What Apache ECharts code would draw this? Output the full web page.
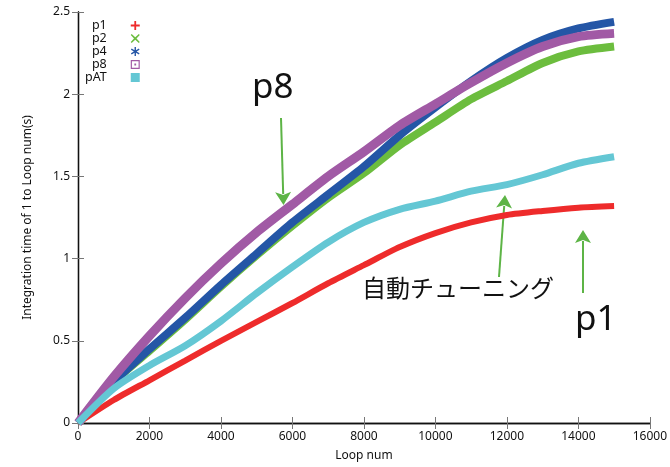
<!DOCTYPE html>
<html><head><meta charset="utf-8">
<script src="https://cdn.jsdelivr.net/npm/echarts@6/dist/echarts.min.js"></script>
<style>html,body{margin:0;padding:0;background:#fff}#c{width:670px;height:467px}</style>
</head><body><div id="c"></div>
<script>
// ---- data ----
const loopNum = [0,1000,2000,3000,4000,5000,6000,7000,8000,9000,10000,11000,12000,13000,14000,15000];
const p1  = [0,0.14,0.26,0.38,0.50,0.615,0.73,0.85,0.96,1.07,1.155,1.22,1.265,1.29,1.31,1.32];
const p2  = [0,0.25,0.44,0.63,0.83,1.02,1.20,1.37,1.52,1.69,1.83,1.97,2.08,2.19,2.26,2.29];
const p4  = [0,0.25,0.45,0.64,0.84,1.03,1.22,1.39,1.56,1.75,1.92,2.08,2.22,2.33,2.40,2.44];
const p8  = [0,0.28,0.53,0.76,0.97,1.16,1.33,1.50,1.65,1.81,1.94,2.07,2.19,2.29,2.35,2.37];
const pAT = [0,0.21,0.35,0.47,0.62,0.79,0.95,1.10,1.22,1.30,1.35,1.41,1.45,1.51,1.58,1.62];
const seriesNames = ['p1','p2','p4','p8','pAT'];
const xTicks = [0,2000,4000,6000,8000,10000,12000,14000,16000];
const yTicks = [0,0.5,1,1.5,2,2.5];
const xName = 'Loop num';
const yName = 'Integration time of 1 to Loop num(s)';
const notes = {p8:'p8', auto:'自動チューニング', p1:'p1'};

// ---- styles ----
const colors = ['#ee2b2b','#6cbd3e','#2456a6','#a15aa5','#64c7d4'];
const widths = [6,8,8,9,7];
const icons = [
  'path://M4,0h2v4h4v2h-4v4h-2v-4h-4v-2h4z',
  'path://M1,0L5,3.6L9,0L10,1L6.4,5L10,9L9,10L5,6.4L1,10L0,9L3.6,5L0,1z',
  'path://M4.3,0h1.4v3.3l2.9,-1.7l0.7,1.2l-2.9,1.7l2.9,1.7l-0.7,1.2l-2.9,-1.7v3.3h-1.4v-3.3l-2.9,1.7l-0.7,-1.2l2.9,-1.7l-2.9,-1.7l0.7,-1.2l2.9,1.7z',
  'path://M0,0h10v10h-10zM1.3,1.3v7.4h7.4v-7.4zM4,4h2v2h-2z',
  'rect'
];
const fontFam = '"Noto Sans", "Open Sans", sans-serif';
const dataSets = [p1,p2,p4,p8,pAT];

const chart = echarts.init(document.getElementById('c'), null, {renderer:'canvas'});
const series = seriesNames.map((n,i)=>({
  name:n, type:'line', smooth:0.25, showSymbol:false, symbol:'none',
  data: loopNum.map((x,j)=>[x,dataSets[i][j]]),
  lineStyle:{color:colors[i], width:widths[i], cap:'butt'},
  itemStyle:{color:colors[i]},
  z: 2+i, animation:false
}));

const green = '#5db446';
function arrow(x1,y1,x2,y2){
  const dx=x2-x1, dy=y2-y1, L=Math.hypot(dx,dy), ux=dx/L, uy=dy/L;
  const hl=13, hw=8;
  const bx=x2-ux*hl, by=y2-uy*hl;
  return [
    {type:'line', shape:{x1:x1,y1:y1,x2:bx+ux*2,y2:by+uy*2}, style:{stroke:green, lineWidth:2}},
    {type:'polygon', shape:{points:[[x2,y2],[bx-uy*hw,by+ux*hw],[bx+ux*3,by+uy*3],[bx+uy*hw,by-ux*hw]]}, style:{fill:green}}
  ];
}

const option = {
  backgroundColor:'#fff',
  animation:false,
  color: colors,
  grid:{left:78, right:20, top:12, bottom:42, show:false},
  legend:{
    orient:'vertical', left:80, top:14, align:'right',
    itemWidth:9, itemHeight:9, itemGap:0,
    data: seriesNames.map((n,i)=>({name:n, icon:icons[i], itemStyle:{color:colors[i]}})),
    textStyle:{fontSize:12.5, lineHeight:13, color:'#111', fontFamily:fontFam, padding:[0,19,0,0]}
  },
  xAxis:[{
    type:'value', min:0, max:16000, interval:2000,
    name:xName, nameLocation:'middle', nameGap:27,
    nameTextStyle:{fontSize:12, color:'#111', fontFamily:fontFam},
    axisLine:{show:true, lineStyle:{color:'#111', width:1.3}},
    axisTick:{show:true, inside:true, length:6, lineStyle:{color:'#777'}},
    axisLabel:{fontSize:12, color:'#111', fontFamily:fontFam, margin:8, formatter:v=>String(v)},
    splitLine:{show:false}
  },{
    type:'value', min:0, max:16000, interval:2000, position:'top',
    axisLine:{show:true, lineStyle:{color:'#111', width:1.3}},
    axisTick:{show:true, inside:true, length:6, lineStyle:{color:'#777'}},
    axisLabel:{show:false}, splitLine:{show:false}
  }],
  yAxis:[{
    type:'value', min:0, max:2.5, interval:0.5,
    name:yName, nameLocation:'middle', nameGap:44, nameRotate:90,
    nameTextStyle:{fontSize:12, color:'#111', fontFamily:fontFam},
    axisLine:{show:true, lineStyle:{color:'#111', width:1.3}},
    axisTick:{show:true, inside:true, length:6, lineStyle:{color:'#777'}},
    axisLabel:{fontSize:12, color:'#111', fontFamily:fontFam, margin:8, formatter:v=>String(v)},
    splitLine:{show:false}
  },{
    type:'value', min:0, max:2.5, interval:0.5, position:'right',
    axisLine:{show:true, lineStyle:{color:'#111', width:1.3}},
    axisTick:{show:true, inside:true, length:6, lineStyle:{color:'#777'}},
    axisLabel:{show:false}, splitLine:{show:false}
  }],
  series: series,
  graphic: [].concat(
    [{type:'text', left:252, top:71, z:100, style:{text:notes.p8, font:'35px '+fontFam, fill:'#111'}}],
    arrow(281,118,283.5,205),
    [{type:'text', left:362, top:276, z:100, style:{text:notes.auto, font:'24px "Noto Sans CJK JP", sans-serif', fill:'#111'}}],
    arrow(499,277,505,195),
    arrow(583,293,583,230),
    [{type:'text', left:575, top:303, z:100, style:{text:notes.p1, font:'35px '+fontFam, fill:'#111'}}]
  )
};
chart.setOption(option);
</script>
</body></html>
